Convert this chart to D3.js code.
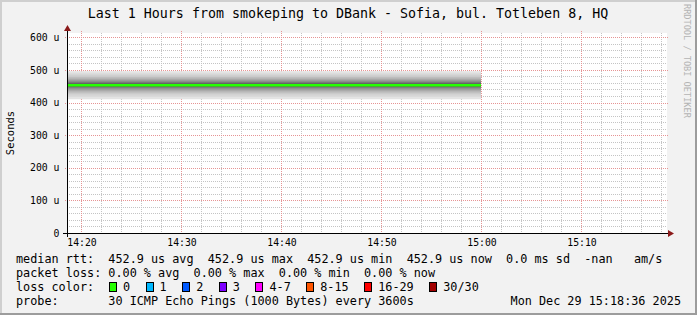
<!DOCTYPE html>
<html>
<head>
<meta charset="utf-8">
<style>
  body { margin: 0; background: #f2f2f2; }
  svg { display: block; font-family: 'DejaVu Sans Mono', monospace; }
  .pre { white-space: pre; }
</style>
</head>
<body>
<svg id="chart" width="697" height="315"></svg>
<script src="https://d3js.org/d3.v7.min.js"></script>
<script>
// --- data ---
var titleText = 'Last 1 Hours from smokeping to DBank - Sofia, bul. Totleben 8, HQ';
var timeWindow = ['2025-12-29T14:18:36', '2025-12-29T15:18:36'];
var stepStart = ['2025-12-29T14:00:00'];
var stepEnd = ['2025-12-29T15:00:00'];
// the 30 sorted pings of the only step, in microseconds
var pingsUs = [410, 418, 425, 430, 434, 437, 440, 443, 445, 447, 449, 450, 451, 452, 452.9,
  453.5, 454.5, 456, 457, 459, 461, 463, 465, 468, 471, 474, 478, 483, 489, 496];
var medianUs = [452.9];
var yTicksUs = [0, 100, 200, 300, 400, 500, 600];
var lossLabels = ['0', '1', '2', '3', '4-7', '8-15', '16-29', '30/30'];
var lossColors = ['#26ff00', '#00b8ff', '#0059ff', '#7e00ff', '#ff00ff', '#ff5500', '#ff0000', '#a10000'];
var rttLine = 'median rtt:  452.9 us avg  452.9 us max  452.9 us min  452.9 us now  0.0 ms sd  -nan   am/s';
var lossLine = 'packet loss: 0.00 % avg  0.00 % max  0.00 % min  0.00 % now';
var probeLine = 'probe:       30 ICMP Echo Pings (1000 Bytes) every 3600s';
var stampLine = 'Mon Dec 29 15:18:36 2025';

var W = 697, H = 315;
var plot = { left: 67, top: 33, width: 600, height: 200 };
var cw = 7.11; // legend char width

var svg = d3.select('#chart');

// frame
svg.append('rect').attr('width', W).attr('height', H).attr('fill', '#f2f2f2');
svg.append('rect').attr('x', 0).attr('y', 0).attr('width', W).attr('height', 2).attr('fill', '#cfcfcf');
svg.append('rect').attr('x', 0).attr('y', 0).attr('width', 2).attr('height', H).attr('fill', '#cfcfcf');
svg.append('rect').attr('x', W - 2).attr('y', 0).attr('width', 2).attr('height', H).attr('fill', '#9c9c9c');
svg.append('rect').attr('x', 0).attr('y', H - 2).attr('width', W).attr('height', 2).attr('fill', '#9c9c9c');

var x = d3.scaleTime()
  .domain(timeWindow.map(function(d) { return new Date(d); }))
  .range([plot.left, plot.left + plot.width]);

var y = d3.scaleLinear()
  .domain([0, plot.height / 0.3262 * 1e-6])
  .range([plot.top + plot.height, plot.top]);

svg.append('rect')
  .attr('x', plot.left).attr('y', plot.top)
  .attr('width', plot.width).attr('height', plot.height)
  .attr('fill', '#fff');

svg.append('clipPath').attr('id', 'clip').append('rect')
  .attr('x', plot.left).attr('y', plot.top)
  .attr('width', plot.width).attr('height', plot.height);

// grid
var grid = svg.append('g');
var minorY = d3.range(0, 620, 20).filter(function(v) { return v % 100 !== 0; });
var minorX = x.ticks(d3.timeMinute.every(2)).filter(function(t) { return t.getMinutes() % 10 !== 0; });
var majorX = x.ticks(d3.timeMinute.every(10));
var minorCol = '#c4c4c4', majorCol = '#e69494';

grid.selectAll('.minh').data(minorY).enter().append('line')
  .attr('x1', plot.left).attr('x2', plot.left + plot.width)
  .attr('y1', function(d) { return Math.round(y(d * 1e-6)) + 0.5; })
  .attr('y2', function(d) { return Math.round(y(d * 1e-6)) + 0.5; })
  .attr('stroke', minorCol).attr('stroke-dasharray', '1,1');

grid.selectAll('.minv').data(minorX).enter().append('line')
  .attr('x1', function(d) { return Math.round(x(d)) + 0.5; })
  .attr('x2', function(d) { return Math.round(x(d)) + 0.5; })
  .attr('y1', plot.top).attr('y2', plot.top + plot.height)
  .attr('stroke', minorCol).attr('stroke-dasharray', '1,1');

grid.selectAll('.majh').data(yTicksUs.slice(1)).enter().append('line')
  .attr('x1', plot.left - 2).attr('x2', plot.left + plot.width + 2)
  .attr('y1', function(d) { return Math.round(y(d * 1e-6)) + 0.5; })
  .attr('y2', function(d) { return Math.round(y(d * 1e-6)) + 0.5; })
  .attr('stroke', majorCol).attr('stroke-dasharray', '1,1');

grid.selectAll('.majv').data(majorX).enter().append('line')
  .attr('x1', function(d) { return Math.round(x(d)) + 0.5; })
  .attr('x2', function(d) { return Math.round(x(d)) + 0.5; })
  .attr('y1', plot.top - 2).attr('y2', plot.top + plot.height + 2)
  .attr('stroke', majorCol).attr('stroke-dasharray', '1,1');

// smoke: pairs of pings, darker towards the middle
var data = stepStart.map(function(s, i) {
  return { t0: new Date(s), t1: new Date(stepEnd[i]), pings: pingsUs, median: medianUs[i] };
});
var half = pingsUs.length / 2;
var layers = [];
data.forEach(function(d) {
  for (var p = 1; p <= half; p++) {
    var g = Math.floor(190 / half * (half - p)) + 50;
    layers.push({ t0: d.t0, t1: d.t1, lo: d.pings[p - 1], hi: d.pings[pingsUs.length - p], color: d3.rgb(g, g, g) });
  }
});

var smoke = svg.append('g').attr('clip-path', 'url(#clip)');
smoke.selectAll('rect.smoke').data(layers).enter().append('rect')
  .attr('x', function(d) { return x(d.t0); })
  .attr('width', function(d) { return x(d.t1) - x(d.t0); })
  .attr('y', function(d) { return y(d.hi * 1e-6); })
  .attr('height', function(d) { return y(d.lo * 1e-6) - y(d.hi * 1e-6); })
  .attr('fill', function(d) { return d.color; });

smoke.selectAll('line.median').data(data).enter().append('line')
  .attr('x1', function(d) { return x(d.t0); })
  .attr('x2', function(d) { return x(d.t1); })
  .attr('y1', function(d) { return y(d.median * 1e-6); })
  .attr('y2', function(d) { return y(d.median * 1e-6); })
  .attr('stroke', lossColors[0]).attr('stroke-width', 2.5);

// axes
var axisG = svg.append('g');
axisG.append('line')
  .attr('x1', plot.left - 4).attr('x2', plot.left + plot.width + 3)
  .attr('y1', plot.top + plot.height + 0.5).attr('y2', plot.top + plot.height + 0.5)
  .attr('stroke', '#000');
axisG.append('line')
  .attr('x1', plot.left + 0.5).attr('x2', plot.left + 0.5)
  .attr('y1', plot.top + plot.height + 4).attr('y2', plot.top - 3)
  .attr('stroke', '#000');
axisG.append('path')
  .attr('d', 'M' + (plot.left + plot.width + 1) + ',' + (plot.top + plot.height - 3) +
    'L' + (plot.left + plot.width + 7) + ',' + (plot.top + plot.height + 0.5) +
    'L' + (plot.left + plot.width + 1) + ',' + (plot.top + plot.height + 4) + 'Z')
  .attr('fill', '#8b1a1a');
axisG.append('path')
  .attr('d', 'M' + (plot.left - 3) + ',' + (plot.top - 2) +
    'L' + (plot.left + 0.5) + ',' + (plot.top - 8) +
    'L' + (plot.left + 4) + ',' + (plot.top - 2) + 'Z')
  .attr('fill', '#8b1a1a');

svg.selectAll('text.ylab').data(yTicksUs).enter().append('text')
  .attr('x', 59.5)
  .attr('y', function(d) { return y(d * 1e-6) + 3.6; })
  .attr('text-anchor', 'end')
  .attr('font-size', '9.8px')
  .text(function(d) { return d === 0 ? '0' : d + ' u'; });

var fmt = d3.timeFormat('%H:%M');
svg.selectAll('text.xlab').data(majorX).enter().append('text')
  .attr('x', function(d) { return x(d) + 1; })
  .attr('y', 246)
  .attr('text-anchor', 'middle')
  .attr('font-size', '9.8px')
  .text(fmt);

svg.append('text')
  .attr('transform', 'translate(14,' + (plot.top + plot.height / 2) + ') rotate(-90)')
  .attr('text-anchor', 'middle')
  .attr('font-size', '10.5px')
  .text('Seconds');

svg.append('text')
  .attr('x', 348).attr('y', 18)
  .attr('text-anchor', 'middle')
  .attr('font-size', '13.3px')
  .text(titleText);

svg.append('text')
  .attr('transform', 'translate(684,4) rotate(90)')
  .attr('font-size', '8.6px')
  .attr('fill', '#b4b4b4')
  .text('RRDTOOL / TOBI OETIKER');

// legend
var legend = svg.append('g').attr('font-size', '11.8px');
legend.append('text').attr('class', 'pre').attr('x', 16).attr('y', 263).text(rttLine);
legend.append('text').attr('class', 'pre').attr('x', 16).attr('y', 277).text(lossLine);
legend.append('text').attr('class', 'pre').attr('x', 16).attr('y', 291).text('loss color:');
legend.append('text').attr('class', 'pre').attr('x', 16).attr('y', 305).text(probeLine);
legend.append('text').attr('x', 681).attr('y', 305).attr('text-anchor', 'end').text(stampLine);

var bx = 109, items = [];
lossLabels.forEach(function(l, i) {
  items.push({ label: l, color: lossColors[i], x: bx });
  bx += 14 + l.length * cw + 15.5;
});
var li = legend.selectAll('g.loss').data(items).enter().append('g');
li.append('rect')
  .attr('x', function(d) { return Math.round(d.x) + 0.5; })
  .attr('y', 282.5).attr('width', 7).attr('height', 9)
  .attr('fill', function(d) { return d.color; })
  .attr('stroke', '#000');
li.append('text')
  .attr('x', function(d) { return d.x + 14; })
  .attr('y', 291)
  .text(function(d) { return d.label; });
</script>
</body>
</html>
